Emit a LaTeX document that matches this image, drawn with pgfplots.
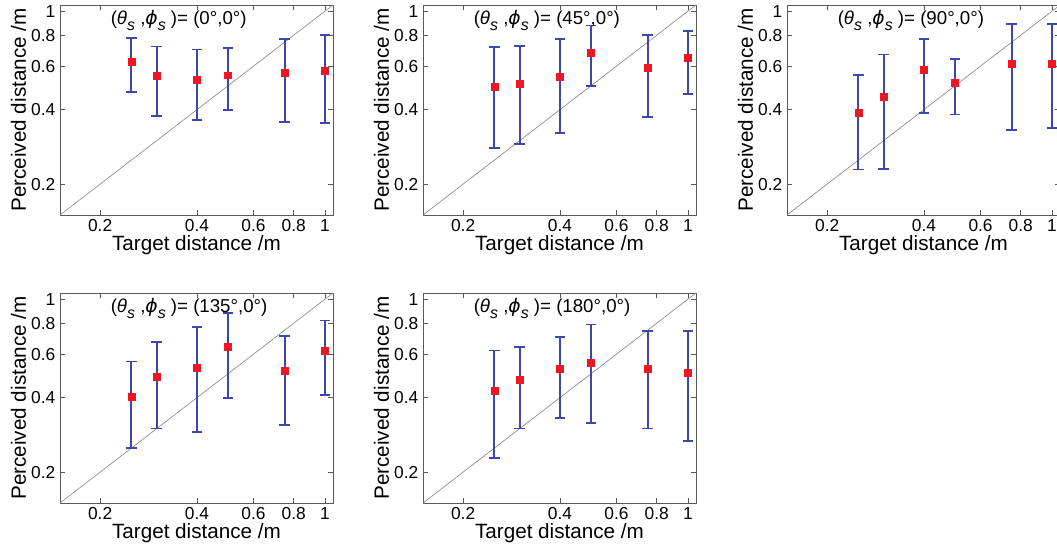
\documentclass[border=0pt]{standalone}
\usepackage{pgfplots}
\usepackage{pgfplotstable}
\pgfplotsset{compat=1.18}
\usepackage{fontspec}
\setmainfont{Liberation Sans}
\newfontfamily\djv{DejaVu Sans}
\definecolor{ebar}{RGB}{62,72,172}
\definecolor{mred}{RGB}{238,22,32}
\pgfplotsset{every axis/.append style={
    scale only axis,
    width=204.75pt, height=157.5pt,
    xmin=0.15, xmax=1.06, ymin=0.15, ymax=1.06,
    xtick={0.2,0.4,0.6,0.8,1}, xticklabels={0.2,0.4,0.6,0.8,1},
    ytick={0.2,0.4,0.6,0.8,1}, yticklabels={0.2,0.4,0.6,0.8,1},
    minor xtick={}, minor ytick={},
    tick align=inside, major tick length=4pt,
    axis line style={black!65, line width=0.5pt},
    tick style={black!65, line width=0.5pt},
    tick label style={font=\fontsize{13}{15}\selectfont, black},
    xlabel={Target distance /m}, ylabel={Perceived distance /m},
    label style={font=\fontsize{15.5}{17}\selectfont},
    xlabel style={yshift=4pt},
    ylabel style={yshift=-3pt},
    clip=false,
}}
\newcommand{\dataplot}[1]{\addplot[only marks, mark=square*, mark size=2.6pt,
    mark options={fill=mred, draw=mred},
    error bars/.cd, y dir=both, y explicit,
    error bar style={ebar, line width=1.3pt},
    error mark options={rotate=90, ebar, mark size=4pt, line width=1.3pt}]
    table[x=x, y=y, y error plus expr=\thisrow{hi}-\thisrow{y}, y error minus expr=\thisrow{y}-\thisrow{lo}] {#1};}
\newcommand{\sub}{\raisebox{-0.6ex}{\fontsize{12}{12}\selectfont\textit{s}}}
\newcommand{\ttl}[1]{\node[anchor=north west, inner sep=0pt, font=\fontsize{14}{16}\selectfont] at (rel axis cs:0.185,0.975) {(\textit{θ}\sub\ ,{\djv\itshape ϕ}\sub\ )= (#1)};}
\newcommand{\diag}{\addplot[gray!90, line width=0.5pt] coordinates {(0.15,0.15) (1.06,1.06)};}

\pgfplotstableread{
x y hi lo
0.25 0.623 0.780 0.470
0.30 0.549 0.720 0.376
0.40 0.529 0.700 0.364
0.50 0.551 0.708 0.400
0.75 0.566 0.775 0.356
1.00 0.575 0.800 0.354
}\tA
\pgfplotstableread{
x y hi lo
0.25 0.494 0.715 0.280
0.30 0.509 0.726 0.291
0.40 0.545 0.775 0.322
0.50 0.682 0.875 0.497
0.75 0.590 0.804 0.373
1.00 0.647 0.830 0.463
}\tB
\pgfplotstableread{
x y hi lo
0.25 0.388 0.552 0.229
0.30 0.450 0.668 0.231
0.40 0.581 0.775 0.388
0.50 0.513 0.643 0.382
0.75 0.614 0.891 0.330
1.00 0.614 0.891 0.337
}\tC
\pgfplotstableread{
x y hi lo
0.25 0.402 0.560 0.250
0.30 0.487 0.670 0.300
0.40 0.530 0.770 0.290
0.50 0.640 0.880 0.400
0.75 0.515 0.710 0.310
1.00 0.618 0.820 0.410
}\tD
\pgfplotstableread{
x y hi lo
0.25 0.425 0.620 0.228
0.30 0.472 0.640 0.300
0.40 0.522 0.705 0.330
0.50 0.553 0.790 0.315
0.75 0.522 0.745 0.300
1.00 0.505 0.745 0.268
}\tE

\begin{document}
\begin{tikzpicture}
\begin{loglogaxis}[at={(45pt,-3.75pt)}, anchor=north west]
\diag
\dataplot{\tA}
\ttl{0°,0°}
\end{loglogaxis}
\begin{loglogaxis}[at={(317.25pt,-3.75pt)}, anchor=north west]
\diag
\dataplot{\tB}
\ttl{45°,0°}
\end{loglogaxis}
\begin{loglogaxis}[at={(590.25pt,-3.75pt)}, anchor=north west]
\diag
\dataplot{\tC}
\ttl{90°,0°}
\end{loglogaxis}
\begin{loglogaxis}[at={(45pt,-219.75pt)}, anchor=north west]
\diag
\dataplot{\tD}
\ttl{135°,0°}
\end{loglogaxis}
\begin{loglogaxis}[at={(317.25pt,-219.75pt)}, anchor=north west]
\diag
\dataplot{\tE}
\ttl{180°,0°}
\end{loglogaxis}
\pgfresetboundingbox
\useasboundingbox (0,0) rectangle (792.75pt,-412.5pt);
\end{tikzpicture}
\end{document}
